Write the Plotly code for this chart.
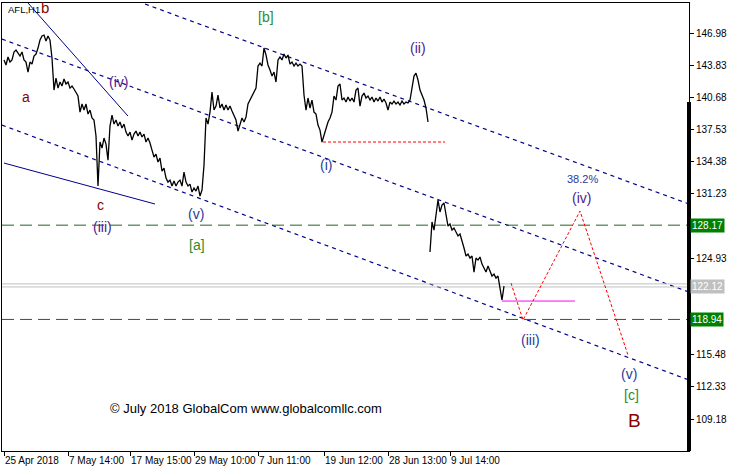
import plotly.graph_objects as go

# ---- data (bar index, price) ----
price_wave_1 = [
    144.34, 143.85, 144.63, 144.14, 144.34, 145.12, 145.31, 145.02, 144.73, 145.12,
    144.34, 144.14, 143.16, 144.14, 143.94, 144.73, 144.92, 145.51, 146.29, 146.69,
    146.78, 146.19, 146.69, 146.29, 144.53, 141.40, 142.57, 141.59, 142.18, 141.79,
    142.48, 141.99, 142.18, 141.59, 141.79, 141.50, 141.20, 140.81, 139.24, 140.03,
    139.44, 140.03, 139.05, 139.44, 138.66, 138.46, 136.90, 132.00, 136.31, 135.72,
    136.70, 136.11, 134.54, 137.87, 138.95, 138.07, 138.46, 137.87, 138.27, 137.68,
    138.07, 137.28, 136.90, 137.28, 136.50, 137.09, 137.38, 136.90, 137.28, 136.80,
    137.09, 136.31, 136.70, 136.21, 135.52, 134.84, 135.13, 134.35, 134.74, 133.47,
    133.76, 132.78, 132.39, 132.58, 132.00, 132.49, 132.00, 132.39, 132.58, 132.00,
    133.37, 132.39, 132.00, 132.19, 131.41, 131.80, 131.51, 132.00, 131.02, 131.61,
    134.05, 138.66, 138.07, 139.24, 141.20, 139.44, 139.83, 140.91, 139.64, 140.03,
    139.44, 139.93, 139.44, 139.83, 139.34, 138.95, 138.46, 137.38, 138.07, 138.66,
    138.27, 138.75, 140.03, 140.42, 140.71, 141.20, 141.59, 143.75, 144.04, 143.75,
    145.51, 144.83, 143.85, 143.36, 142.77, 143.16, 142.18, 144.34, 144.63, 144.34,
    144.92, 144.53, 144.83, 143.94, 144.14, 143.75, 144.04, 143.75, 143.94, 143.75,
    140.91, 139.44, 140.62, 139.64, 140.42, 139.24, 139.05, 137.97, 137.48, 136.31,
    137.00, 137.68, 138.27, 138.66, 139.24, 140.81, 140.42, 141.79, 141.99, 140.42,
    140.62, 140.22, 140.71, 140.32, 140.62, 140.22, 141.40, 141.59, 139.83, 140.81,
    141.10, 140.62, 140.81, 140.42, 140.71, 140.22, 140.62, 140.32, 140.71, 140.22,
    140.52, 140.13, 139.44, 140.22, 140.03, 140.32, 140.03, 140.22, 139.93, 140.32,
    140.03, 140.22, 140.13, 140.42, 141.59, 142.77, 143.06, 142.38, 141.40, 140.91,
    140.42, 139.64, 138.27,
]
price_wave_2 = [
    125.54, 128.48, 127.69, 129.26, 130.63, 129.46, 130.14, 130.34, 129.07, 128.08,
    128.28, 127.69, 127.89, 127.50, 127.11, 127.30, 126.71, 125.93, 125.15, 125.34,
    124.95, 125.15, 123.58, 124.95, 124.75, 125.05, 124.36, 123.97, 123.58, 124.17,
    123.58, 123.19, 123.38, 122.99, 123.19, 122.01, 120.84, 122.21,
]
wave2_start = len(price_wave_1)

tick_bars = [0, 32, 63, 95, 127, 160, 192, 223]
tick_labels = ["25 Apr 2018", "7 May 14:00", "17 May 15:00", "29 May 10:00",
               "7 Jun 11:00", "19 Jun 12:00", "28 Jun 13:00", "9 Jul 14:00"]
y_ticks = [146.98, 143.83, 140.68, 137.53, 134.38, 131.23,
           124.93, 115.48, 112.33, 109.18]

# channel / trend lines (bar, price)
chan_top = ([70.5, 342.5], [149.82, 130.24])
chan_mid = ([-1, 342.5], [146.39, 121.62])
chan_low = ([-1, 342.5], [137.97, 113.01])
trend_low = ([0, 75.5], [134.25, 130.24])
trend_high = ([12, 62], [149.92, 138.85])
support_i = ([159.5, 220.5], [136.31, 136.31])
low_mark = ([249, 285.5], [120.74, 120.74])
proj_x = [253.5, 259.5, 288, 312]
proj_y = [122.50, 118.88, 129.55, 115.45]
level_hi, level_lo, level_cur, level_cur2 = 128.17, 118.94, 122.12, 122.42

X_RANGE = [-1, 342.5]
Y_RANGE = [106.06, 149.92]

fig = go.Figure()

NAVY = "#00008B"
for xs, ys in (chan_top, chan_mid, chan_low):
    fig.add_trace(go.Scatter(x=xs, y=ys, mode="lines",
                             line=dict(color=NAVY, width=1.2, dash="4px,4px"),
                             hoverinfo="skip"))
for xs, ys in (trend_low, trend_high):
    fig.add_trace(go.Scatter(x=xs, y=ys, mode="lines",
                             line=dict(color=NAVY, width=1), hoverinfo="skip"))

# horizontal levels
for lv in (level_hi, level_lo):
    fig.add_trace(go.Scatter(x=X_RANGE, y=[lv, lv], mode="lines",
                             line=dict(color="#1E661E", width=1, dash="12px,6px"),
                             hoverinfo="skip"))
for lv in (level_cur, level_cur2):
    fig.add_trace(go.Scatter(x=X_RANGE, y=[lv, lv], mode="lines",
                             line=dict(color="#C0C0C0", width=1), hoverinfo="skip"))

fig.add_trace(go.Scatter(x=support_i[0], y=support_i[1], mode="lines",
                         line=dict(color="#FF0000", width=1, dash="3px,2px"),
                         hoverinfo="skip"))
fig.add_trace(go.Scatter(x=low_mark[0], y=low_mark[1], mode="lines",
                         line=dict(color="#FF00FF", width=1), hoverinfo="skip"))
fig.add_trace(go.Scatter(x=proj_x, y=proj_y, mode="lines",
                         line=dict(color="#FF0000", width=1, dash="3px,2px"),
                         hoverinfo="skip"))

# price
fig.add_trace(go.Scatter(x=list(range(len(price_wave_1))), y=price_wave_1, mode="lines",
                         line=dict(color="black", width=1.3), hoverinfo="skip"))
fig.add_trace(go.Scatter(x=list(range(wave2_start, wave2_start + len(price_wave_2))),
                         y=price_wave_2, mode="lines",
                         line=dict(color="black", width=1.3), hoverinfo="skip"))

RED = "#8B0000"
PURPLE = "#4B1C8C"
BLUE = "#1F3C99"
GREEN = "#2E8B2E"
labels = [
    ("b", 20.5, 149.45, RED, 15),
    ("a", 11, 140.71, RED, 14),
    ("(iv)", 57, 142.18, PURPLE, 14),
    ("c", 48, 130.14, RED, 14),
    ("(iii)", 49, 127.99, PURPLE, 14),
    ("(v)", 96, 129.26, BLUE, 14),
    ("[a]", 96.5, 126.22, GREEN, 14),
    ("[b]", 131, 148.55, GREEN, 14),
    ("(ii)", 207, 145.51, PURPLE, 14),
    ("(i)", 161, 134.05, BLUE, 14),
    ("38.2%", 289, 132.69, BLUE, 11),
    ("(iv)", 288.5, 130.83, PURPLE, 14),
    ("(iii)", 263, 116.92, BLUE, 14),
    ("(v)", 312.5, 113.60, BLUE, 14),
    ("[c]", 313.5, 111.54, GREEN, 14),
    ("B", 315, 109.09, RED, 19),
]
for t, x, y, c, s in labels:
    fig.add_annotation(x=x, y=y, text=t, showarrow=False,
                       font=dict(family="Arial", size=s, color=c))

fig.add_annotation(x=1, y=149.33, text="AFL,H1", showarrow=False, xanchor="left",
                   font=dict(family="Arial", size=9.5, color="black"))
fig.add_annotation(x=52, y=110.27, text="© July 2018 GlobalCom www.globalcomllc.com",
                   showarrow=False, xanchor="left",
                   font=dict(family="Arial", size=13, color="black"))

for lv, bg in ((level_hi, "#008000"), (level_cur, "#C0C0C0"), (level_lo, "#008000")):
    fig.add_annotation(xref="paper", x=1, y=lv, text=f"{lv:.2f}", showarrow=False,
                       xanchor="left", xshift=1, bgcolor=bg, borderpad=1,
                       font=dict(family="Arial", size=10, color="white"))

# thick marker on right edge
fig.add_shape(type="line", xref="paper", yref="y", x0=1, x1=1, y0=140.22, y1=Y_RANGE[0],
              line=dict(color="black", width=4))

fig.update_layout(
    width=732, height=468,
    margin=dict(l=2, r=43, t=3, b=17, autoexpand=False),
    paper_bgcolor="white", plot_bgcolor="white",
    showlegend=False,
    font=dict(family="Arial", size=10, color="black"),
)
fig.update_xaxes(range=X_RANGE, showgrid=False, zeroline=False, automargin=False,
                 showline=True, linecolor="black", linewidth=1, mirror=True,
                 tickvals=tick_bars, ticktext=tick_labels, ticks="outside",
                 ticklen=4, tickcolor="black", ticklabelposition="outside right",
                 tickangle=0,
                 tickfont=dict(family="Arial", size=10, color="black"))
fig.update_yaxes(range=Y_RANGE, side="right", showgrid=False, zeroline=False,
                 automargin=False,
                 showline=True, linecolor="black", linewidth=1, mirror=True,
                 tickvals=y_ticks, ticktext=[f"{v:.2f}" for v in y_ticks],
                 ticks="outside", ticklen=4, tickcolor="black",
                 tickfont=dict(family="Arial", size=10, color="black"))

fig.write_html("out.html", config={"displayModeBar": False},
               post_script="document.body.style.margin='0';document.body.style.padding='0';")
